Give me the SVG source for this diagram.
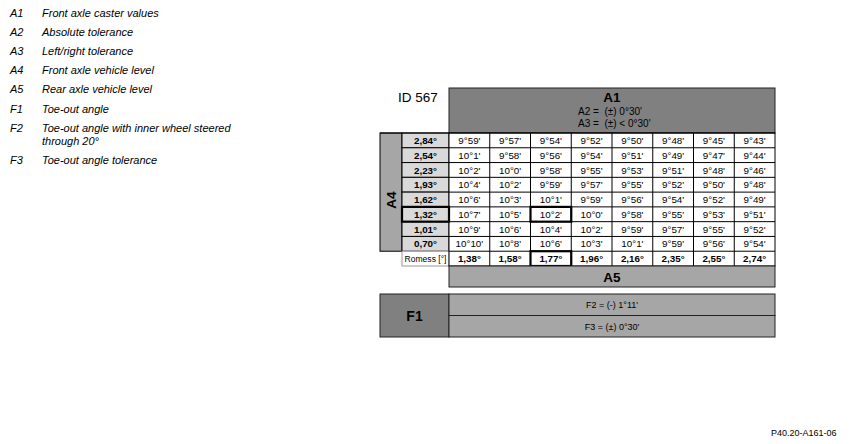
<svg xmlns="http://www.w3.org/2000/svg" width="850" height="444" viewBox="0 0 850 444">
<style>
text{font-family:"Liberation Sans",Arial,sans-serif;fill:#000}
.lg{font-size:11px;font-style:italic}
.d{font-size:9.8px;text-anchor:middle}
.b{font-size:9.8px;font-weight:bold;text-anchor:middle}
.c{fill:#fff;stroke:#000;stroke-width:1}
.l{fill:#d9d9d9;stroke:#000;stroke-width:1}
.hl{fill:none;stroke:#000;stroke-width:2.2}
.g1{fill:#808080;stroke:#222;stroke-width:1}
.g2{fill:#a6a6a6;stroke:#222;stroke-width:1}
.t{font-weight:bold;text-anchor:middle}
</style>
<rect width="850" height="444" fill="#fff"/>
<g id="legend" class="lg">
<text class="lg" x="10" y="17">A1</text><text class="lg" x="42" y="17">Front axle caster values</text>
<text class="lg" x="10" y="36">A2</text><text class="lg" x="42" y="36">Absolute tolerance</text>
<text class="lg" x="10" y="55">A3</text><text class="lg" x="42" y="55">Left/right tolerance</text>
<text class="lg" x="10" y="74">A4</text><text class="lg" x="42" y="74">Front axle vehicle level</text>
<text class="lg" x="10" y="93">A5</text><text class="lg" x="42" y="93">Rear axle vehicle level</text>
<text class="lg" x="10" y="113">F1</text><text class="lg" x="42" y="113">Toe-out angle</text>
<text class="lg" x="10" y="132">F2</text><text class="lg" x="42" y="132">Toe-out angle with inner wheel steered</text>
<text class="lg" x="42" y="145">through 20°</text>
<text class="lg" x="10" y="164">F3</text><text class="lg" x="42" y="164">Toe-out angle tolerance</text>
</g>
<g id="id567"><text x="398" y="102" font-size="13.5">ID 567</text></g>
<g id="A1">
<rect class="g1" x="449" y="88" width="326" height="45"/>
<text class="t" x="612" y="102" font-size="13.5">A1</text>
<text x="578" y="115" font-size="10">A2 =&#160; (±) 0°30'</text>
<text x="578" y="127" font-size="10">A3 =&#160; (±) &lt; 0°30'</text>
</g>
<g id="A4">
<rect fill="#a6a6a6" stroke="#000" x="380" y="133" width="22" height="118.22"/>
<text class="t" font-size="13.5" transform="translate(396,200) rotate(-90)">A4</text>
</g>
<g id="table">
<g id="labels">
<rect class="l" x="402" y="133" width="47" height="14.78"/><text class="b" x="425.5" y="144">2,84°</text>
<rect class="l" x="402" y="147.78" width="47" height="14.78"/><text class="b" x="425.5" y="158.8">2,54°</text>
<rect class="l" x="402" y="162.56" width="47" height="14.78"/><text class="b" x="425.5" y="173.6">2,23°</text>
<rect class="l" x="402" y="177.33" width="47" height="14.78"/><text class="b" x="425.5" y="188.3">1,93°</text>
<rect class="l" x="402" y="192.11" width="47" height="14.78"/><text class="b" x="425.5" y="203.1">1,62°</text>
<rect class="l" x="402" y="206.89" width="47" height="14.78"/><text class="b" x="425.5" y="217.9">1,32°</text>
<rect class="l" x="402" y="221.67" width="47" height="14.78"/><text class="b" x="425.5" y="232.7">1,01°</text>
<rect class="l" x="402" y="236.44" width="47" height="14.78"/><text class="b" x="425.5" y="247.4">0,70°</text>
<rect fill="#fff" stroke="#999" x="402" y="251.22" width="47" height="14.78"/><text x="425.5" y="262" font-size="8.5" text-anchor="middle" textLength="42" lengthAdjust="spacingAndGlyphs">Romess [°]</text>
</g>
<g id="cells">
<rect class="c" x="449" y="133" width="326" height="133"/>
<g stroke="#000" stroke-width="1">
<line x1="489.75" y1="133" x2="489.75" y2="266"/><line x1="530.5" y1="133" x2="530.5" y2="266"/>
<line x1="571.25" y1="133" x2="571.25" y2="266"/><line x1="612" y1="133" x2="612" y2="266"/>
<line x1="652.75" y1="133" x2="652.75" y2="266"/><line x1="693.5" y1="133" x2="693.5" y2="266"/>
<line x1="734.25" y1="133" x2="734.25" y2="266"/>
<line x1="449" y1="147.78" x2="775" y2="147.78"/><line x1="449" y1="162.56" x2="775" y2="162.56"/>
<line x1="449" y1="177.33" x2="775" y2="177.33"/><line x1="449" y1="192.11" x2="775" y2="192.11"/>
<line x1="449" y1="206.89" x2="775" y2="206.89"/><line x1="449" y1="221.67" x2="775" y2="221.67"/>
<line x1="449" y1="236.44" x2="775" y2="236.44"/><line x1="449" y1="251.22" x2="775" y2="251.22"/>
<line x1="380" y1="133" x2="775" y2="133"/>
</g>
<g class="d">
<text class="d" x="469.4" y="144">9°59'</text><text class="d" x="510.1" y="144">9°57'</text><text class="d" x="550.9" y="144">9°54'</text><text class="d" x="591.6" y="144">9°52'</text><text class="d" x="632.4" y="144">9°50'</text><text class="d" x="673.1" y="144">9°48'</text><text class="d" x="713.9" y="144">9°45'</text><text class="d" x="754.6" y="144">9°43'</text>
<text class="d" x="469.4" y="158.8">10°1'</text><text class="d" x="510.1" y="158.8">9°58'</text><text class="d" x="550.9" y="158.8">9°56'</text><text class="d" x="591.6" y="158.8">9°54'</text><text class="d" x="632.4" y="158.8">9°51'</text><text class="d" x="673.1" y="158.8">9°49'</text><text class="d" x="713.9" y="158.8">9°47'</text><text class="d" x="754.6" y="158.8">9°44'</text>
<text class="d" x="469.4" y="173.6">10°2'</text><text class="d" x="510.1" y="173.6">10°0'</text><text class="d" x="550.9" y="173.6">9°58'</text><text class="d" x="591.6" y="173.6">9°55'</text><text class="d" x="632.4" y="173.6">9°53'</text><text class="d" x="673.1" y="173.6">9°51'</text><text class="d" x="713.9" y="173.6">9°48'</text><text class="d" x="754.6" y="173.6">9°46'</text>
<text class="d" x="469.4" y="188.3">10°4'</text><text class="d" x="510.1" y="188.3">10°2'</text><text class="d" x="550.9" y="188.3">9°59'</text><text class="d" x="591.6" y="188.3">9°57'</text><text class="d" x="632.4" y="188.3">9°55'</text><text class="d" x="673.1" y="188.3">9°52'</text><text class="d" x="713.9" y="188.3">9°50'</text><text class="d" x="754.6" y="188.3">9°48'</text>
<text class="d" x="469.4" y="203.1">10°6'</text><text class="d" x="510.1" y="203.1">10°3'</text><text class="d" x="550.9" y="203.1">10°1'</text><text class="d" x="591.6" y="203.1">9°59'</text><text class="d" x="632.4" y="203.1">9°56'</text><text class="d" x="673.1" y="203.1">9°54'</text><text class="d" x="713.9" y="203.1">9°52'</text><text class="d" x="754.6" y="203.1">9°49'</text>
<text class="d" x="469.4" y="217.9">10°7'</text><text class="d" x="510.1" y="217.9">10°5'</text><text class="d" x="550.9" y="217.9">10°2'</text><text class="d" x="591.6" y="217.9">10°0'</text><text class="d" x="632.4" y="217.9">9°58'</text><text class="d" x="673.1" y="217.9">9°55'</text><text class="d" x="713.9" y="217.9">9°53'</text><text class="d" x="754.6" y="217.9">9°51'</text>
<text class="d" x="469.4" y="232.7">10°9'</text><text class="d" x="510.1" y="232.7">10°6'</text><text class="d" x="550.9" y="232.7">10°4'</text><text class="d" x="591.6" y="232.7">10°2'</text><text class="d" x="632.4" y="232.7">9°59'</text><text class="d" x="673.1" y="232.7">9°57'</text><text class="d" x="713.9" y="232.7">9°55'</text><text class="d" x="754.6" y="232.7">9°52'</text>
<text class="d" x="469.4" y="247.4">10°10'</text><text class="d" x="510.1" y="247.4">10°8'</text><text class="d" x="550.9" y="247.4">10°6'</text><text class="d" x="591.6" y="247.4">10°3'</text><text class="d" x="632.4" y="247.4">10°1'</text><text class="d" x="673.1" y="247.4">9°59'</text><text class="d" x="713.9" y="247.4">9°56'</text><text class="d" x="754.6" y="247.4">9°54'</text>
</g>
<g>
<text class="b" x="469.4" y="262.1">1,38°</text><text class="b" x="510.1" y="262.1">1,58°</text><text class="b" x="550.9" y="262.1">1,77°</text><text class="b" x="591.6" y="262.1">1,96°</text><text class="b" x="632.4" y="262.1">2,16°</text><text class="b" x="673.1" y="262.1">2,35°</text><text class="b" x="713.9" y="262.1">2,55°</text><text class="b" x="754.6" y="262.1">2,74°</text>
</g>
</g>
<g id="highlights">
<rect class="hl" x="402" y="206.89" width="47" height="14.78"/>
<rect class="hl" x="530.5" y="206.89" width="40.75" height="14.78"/>
<rect class="hl" x="530.5" y="251.22" width="40.75" height="14.78"/>
</g>
</g>
<g id="A5">
<rect class="g2" x="449" y="266" width="326" height="21"/>
<text class="t" x="612" y="281.5" font-size="13.5">A5</text>
</g>
<g id="F">
<rect class="g1" x="380" y="294" width="69" height="43"/>
<text class="t" x="414.5" y="320.5" font-size="14">F1</text>
<rect class="g2" x="449" y="294" width="326" height="21.5"/>
<text x="612" y="308" font-size="9" text-anchor="middle">F2 = (-) 1°11'</text>
<rect class="g2" x="449" y="315.5" width="326" height="21.5"/>
<text x="612" y="330" font-size="9" text-anchor="middle">F3 = (±) 0°30'</text>
</g>
<g id="connectors"/>
<g id="ref"><text x="771" y="436" font-size="9">P40.20-A161-06</text></g>
</svg>
